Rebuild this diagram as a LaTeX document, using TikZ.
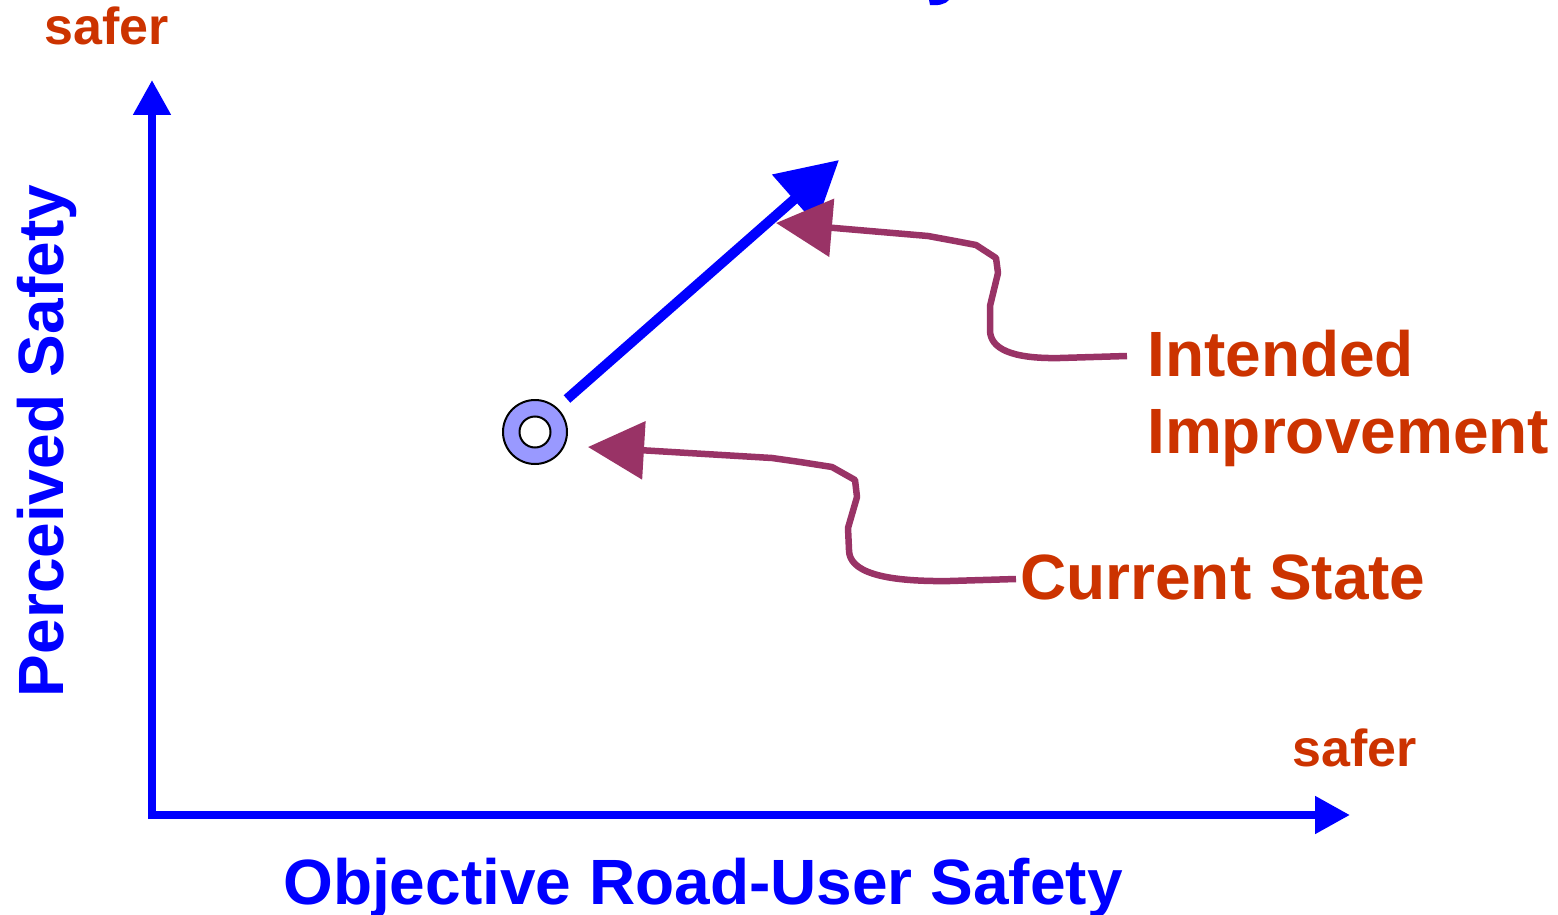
\documentclass[tikz,border=0pt]{standalone}
\usepackage{fontspec}
\setmainfont{Liberation Sans}
\usetikzlibrary{arrows.meta}
\definecolor{axblue}{HTML}{0000FF}
\definecolor{lblred}{HTML}{CC3300}
\definecolor{plum}{HTML}{993366}
\definecolor{dotfill}{HTML}{9999FF}
\tikzset{
  axis/.style={draw=axblue, line width=8pt, -{Triangle[length=35pt,width=36pt]}},
  move/.style={draw=axblue, line width=10pt, -{Triangle[length=60pt,width=64pt]}},
  pointer/.style={draw=plum, line width=6.5pt, line join=round, -{Triangle[length=56pt,width=57pt]}},
  redlbl/.style={text=lblred, font=\fontsize{64}{77}\selectfont\bfseries, inner sep=0pt},
  smalllbl/.style={text=lblred, font=\fontsize{52}{60}\selectfont\bfseries, inner sep=0pt},
  bluelbl/.style={text=axblue, font=\fontsize{64}{77}\selectfont\bfseries, inner sep=0pt},
}
\begin{document}
\begin{tikzpicture}[x=1pt,y=-1pt]
\useasboundingbox (0,0) rectangle (1558,915);
% axes
\coordinate (origin) at (152,815);
\coordinate (ytip) at (152,80);
\coordinate (xtip) at (1350,815);
\draw[axis] (152,819) -- (ytip);
\draw[axis] (148,815) -- (xtip);
% labels
\node[smalllbl, anchor=base] (safery) at (107,45) {safer};
\node[smalllbl, anchor=base] (saferx) at (1355,766) {safer};
\node[bluelbl, anchor=base] (xlab) at (703,904) {Objective Road-User Safety};
\node[bluelbl, anchor=base, rotate=90] (ylab) at (63,441) {Perceived Safety};
\node[redlbl, anchor=base west] (ii) at (1147,376) {Intended};
\node[redlbl, anchor=base west] (ii2) at (1147,453) {Improvement};
\node[redlbl, anchor=base west] (cs) at (1020,599) {Current State};
% current state marker
\node[circle, draw=black, line width=2pt, fill=dotfill, minimum size=64pt, inner sep=0pt] (cur) at (535,432) {};
\node[circle, draw=black, line width=2pt, fill=white, minimum size=31pt, inner sep=0pt] (curin) at (535,432) {};
% intended improvement arrow
\coordinate (mstart) at (567,399);
\coordinate (mtip) at (839,160);
\draw[move] (mstart) -- (mtip);
% pointers
\coordinate (p1s) at ([xshift=-20pt]ii.west |- 0,356);
\coordinate (p1t) at (776,223);
\draw[pointer] (p1s) -- (1060,358) .. controls (1010,359) and (990,348) .. (990,330)
  -- (990,306) -- (998,273) -- (996,258) -- (976,245) -- (955,241) -- (928,236) -- (p1t);
\coordinate (p2s) at ([xshift=-4pt]cs.west |- 0,579);
\coordinate (p2t) at (588,447);
\draw[pointer] (p2s) -- (950,581) .. controls (880,582) and (849,571) .. (849,550)
  -- (848,528) -- (857,497) -- (855,480) -- (832,467) -- (800,462) -- (772,458) -- (p2t);
% cut-off title descender
\fill[axblue] (929,0) -- (949,0) .. controls (946,4) and (938,6) .. (930,5) -- cycle;
\end{tikzpicture}
\end{document}
